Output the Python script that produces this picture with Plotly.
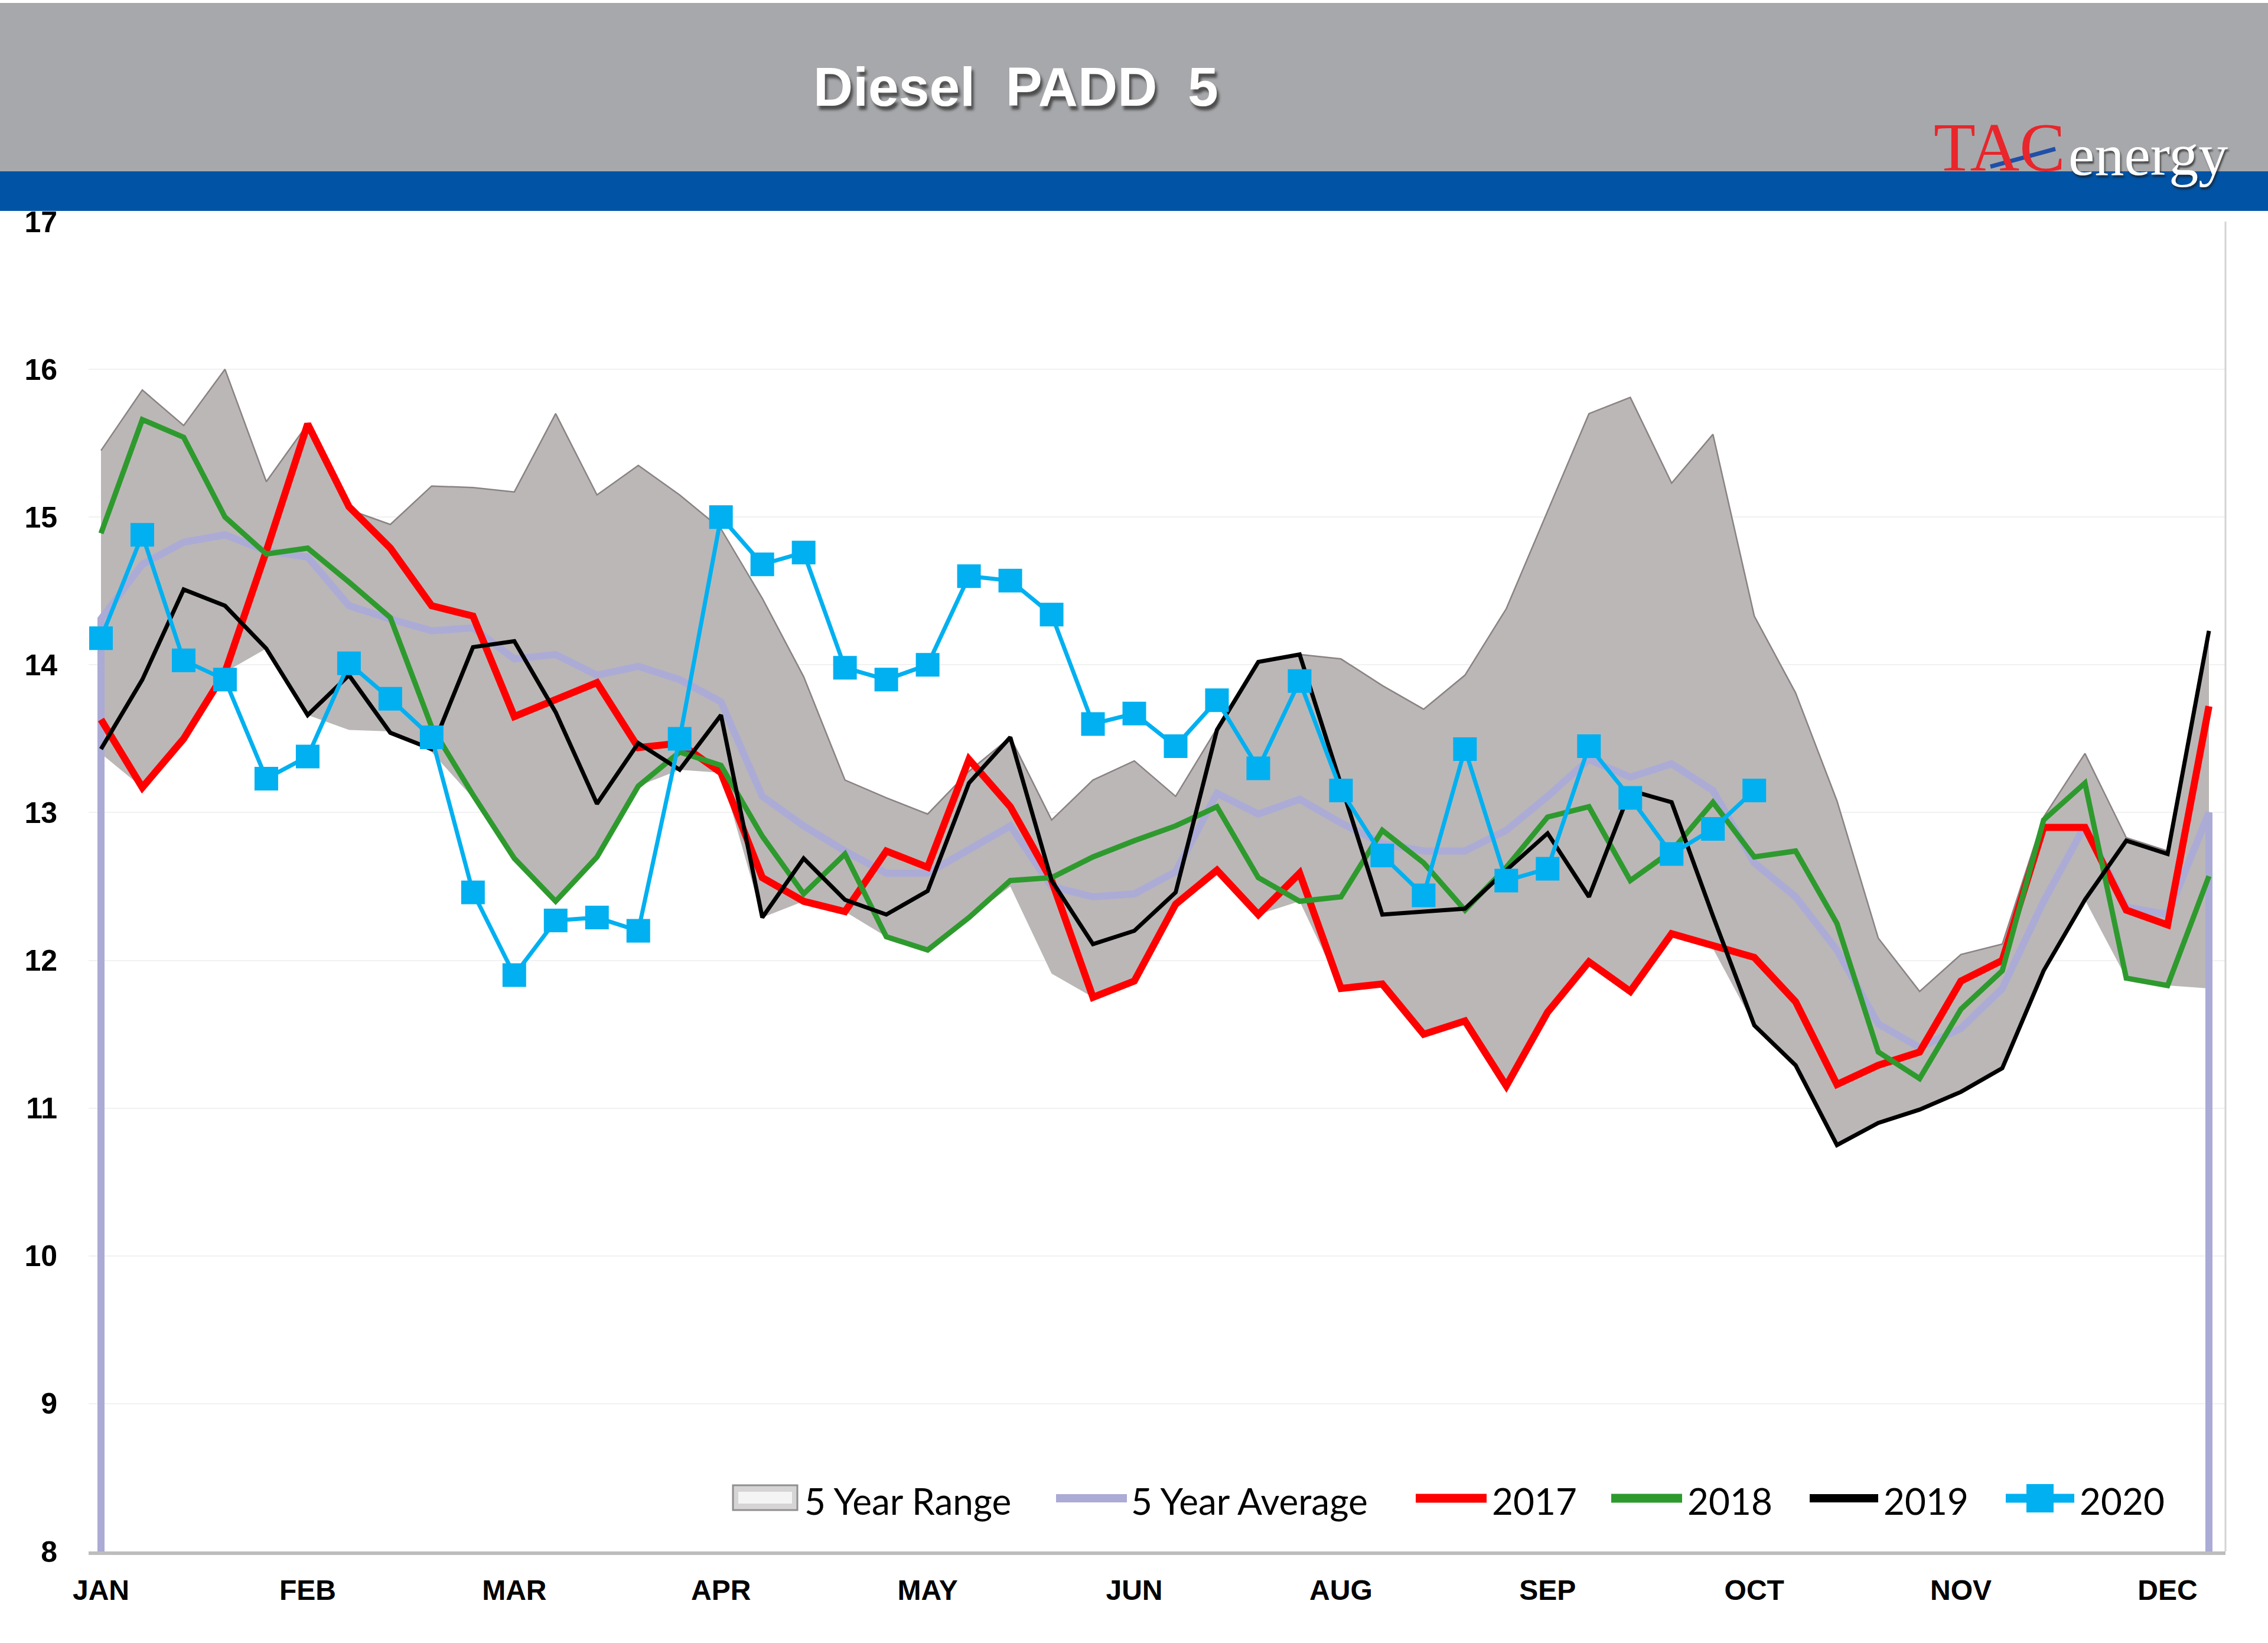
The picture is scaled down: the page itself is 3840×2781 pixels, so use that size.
import plotly.graph_objects as go

# ---------------- data ----------------
weeks = list(range(52))
month_ticks = [0, 5, 10, 15, 20, 25, 30, 35, 40, 45, 50]
month_labels = ["JAN", "FEB", "MAR", "APR", "MAY", "JUN", "AUG", "SEP", "OCT", "NOV", "DEC"]
y_ticks = [8, 9, 10, 11, 12, 13, 14, 15, 16, 17]
series_names = ["5 Year Range", "5 Year Average", "2017", "2018", "2019", "2020"]

range_low = [13.40, 13.17, 13.50, 13.95, 14.11, 13.66, 13.56, 13.55, 13.41, 13.10,
             12.68, 12.40, 12.70, 13.18, 13.29, 13.27, 12.29, 12.40, 12.33, 12.16,
             12.07, 12.29, 12.50, 11.91, 11.75, 11.86, 12.35, 12.61, 12.31, 12.40,
             11.81, 11.84, 11.50, 11.59, 11.15, 11.65, 11.99, 11.79, 12.18, 12.08,
             11.56, 11.29, 10.75, 10.90, 10.99, 11.11, 11.27, 11.93, 12.41, 11.88,
             11.83, 11.81]
range_high = [15.45, 15.86, 15.62, 16.00, 15.24, 15.63, 15.05, 14.95, 15.21, 15.20,
              15.17, 15.70, 15.15, 15.35, 15.15, 14.92, 14.45, 13.92, 13.22, 13.10,
              12.99, 13.28, 13.51, 12.95, 13.22, 13.35, 13.11, 13.57, 14.02, 14.07,
              14.04, 13.86, 13.70, 13.93, 14.38, 15.04, 15.70, 15.81, 15.23, 15.56,
              14.33, 13.81, 13.08, 12.15, 11.79, 12.04, 12.11, 12.97, 13.40, 12.83,
              12.74, 14.23]
avg5 = [14.31, 14.68, 14.83, 14.88, 14.77, 14.73, 14.40, 14.31, 14.23, 14.25,
        14.04, 14.07, 13.93, 13.99, 13.90, 13.75, 13.11, 12.91, 12.74, 12.59,
        12.59, 12.75, 12.91, 12.50, 12.43, 12.45, 12.60, 13.13, 12.99, 13.09,
        12.93, 12.79, 12.74, 12.74, 12.88, 13.11, 13.36, 13.24, 13.33, 13.15,
        12.66, 12.43, 12.07, 11.57, 11.41, 11.54, 11.81, 12.40, 12.91, 12.36,
        12.31, 13.00]
y2017 = [13.63, 13.17, 13.50, 13.95, 14.77, 15.63, 15.07, 14.79, 14.40, 14.33,
         13.65, 13.77, 13.88, 13.44, 13.47, 13.27, 12.56, 12.40, 12.33, 12.74,
         12.63, 13.36, 13.04, 12.54, 11.75, 11.86, 12.38, 12.61, 12.31, 12.59,
         11.81, 11.84, 11.50, 11.59, 11.15, 11.65, 11.99, 11.79, 12.18, 12.10,
         12.02, 11.72, 11.16, 11.29, 11.38, 11.86, 12.00, 12.90, 12.90, 12.34,
         12.24, 13.72]
y2018 = [14.89, 15.66, 15.54, 15.00, 14.75, 14.79, 14.56, 14.32, 13.58, 13.12,
         12.69, 12.40, 12.70, 13.18, 13.41, 13.32, 12.84, 12.45, 12.72, 12.16,
         12.07, 12.29, 12.54, 12.56, 12.70, 12.81, 12.91, 13.04, 12.56, 12.40,
         12.43, 12.88, 12.66, 12.34, 12.63, 12.97, 13.04, 12.54, 12.74, 13.07,
         12.70, 12.74, 12.25, 11.38, 11.20, 11.67, 11.93, 12.95, 13.20, 11.88,
         11.83, 12.57]
y2019 = [13.43, 13.90, 14.51, 14.40, 14.11, 13.66, 13.93, 13.54, 13.43, 14.12,
         14.16, 13.68, 13.06, 13.47, 13.29, 13.66, 12.29, 12.69, 12.41, 12.31,
         12.47, 13.20, 13.51, 12.54, 12.11, 12.20, 12.46, 13.56, 14.02, 14.07,
         13.19, 12.31, 12.33, 12.35, 12.61, 12.86, 12.43, 13.15, 13.07, 12.30,
         11.56, 11.29, 10.75, 10.90, 10.99, 11.11, 11.27, 11.93, 12.41, 12.81,
         12.72, 14.23]
y2020 = [14.18, 14.88, 14.03, 13.90, 13.23, 13.38, 14.01, 13.77, 13.51, 12.46,
         11.90, 12.27, 12.29, 12.20, 13.50, 15.00, 14.68, 14.76, 13.98, 13.90,
         14.00, 14.60, 14.57, 14.34, 13.60, 13.67, 13.45, 13.76, 13.30, 13.89,
         13.15, 12.71, 12.44, 13.43, 12.54, 12.62, 13.45, 13.10, 12.72, 12.89,
         13.15]

# ---------------- styling ----------------
C_RANGE, C_RANGE_EDGE = "#bbb7b7", "#8a8283"
C_AVG, C_2017, C_2018, C_2019, C_2020 = "#ababd6", "#ff0000", "#2e9a2e", "#000000", "#00b0f0"

W, H = 3840, 2781
ML, MR, MT, MB = 150, 72, 375, 155
PW, PH = W - ML - MR, H - MT - MB


def px(x):
    return (x - ML) / PW


def py(y):
    return (H - MB - y) / PH


fig = go.Figure()

# 5 year range (area between low and high)
fig.add_trace(go.Scatter(x=weeks, y=range_low, mode="lines",
                         line=dict(width=0, color="rgba(0,0,0,0)"),
                         showlegend=False, hoverinfo="skip"))
fig.add_trace(go.Scatter(x=weeks, y=range_high, mode="lines", name=series_names[0],
                         fill="tonexty", fillcolor=C_RANGE,
                         line=dict(width=2.5, color=C_RANGE_EDGE), showlegend=False))

# 5 year average (area-outline style: drops to the axis at both ends)
avg_x = [weeks[0]] + weeks + [weeks[-1]]
avg_y = [y_ticks[0]] + avg5 + [y_ticks[0]]
fig.add_trace(go.Scatter(x=avg_x, y=avg_y, mode="lines", name=series_names[1],
                         line=dict(width=12, color=C_AVG), showlegend=False))

fig.add_trace(go.Scatter(x=weeks, y=y2017, mode="lines", name=series_names[2],
                         line=dict(width=12, color=C_2017), showlegend=False))
fig.add_trace(go.Scatter(x=weeks, y=y2018, mode="lines", name=series_names[3],
                         line=dict(width=9, color=C_2018), showlegend=False))
fig.add_trace(go.Scatter(x=weeks, y=y2019, mode="lines", name=series_names[4],
                         line=dict(width=7, color=C_2019), showlegend=False))
fig.add_trace(go.Scatter(x=weeks[:len(y2020)], y=y2020, mode="lines+markers", name=series_names[5],
                         line=dict(width=7, color=C_2020),
                         marker=dict(symbol="square", size=40, color=C_2020), showlegend=False))

tickfont = dict(family="Liberation Sans", size=50, color="#000000", weight="bold")

fig.update_layout(
    width=W, height=H,
    margin=dict(l=ML, r=MR, t=MT, b=MB, pad=0),
    paper_bgcolor="white", plot_bgcolor="white",
    showlegend=False,
    xaxis=dict(range=[-0.3, 51.4], tickmode="array", tickvals=month_ticks, ticktext=month_labels,
               showgrid=False, zeroline=False, showline=True, linecolor="#bdbdbd", linewidth=6,
               ticks="", tickfont=dict(family="Liberation Sans", size=48, color="#000000", weight="bold"),
               ticklabelstandoff=18),
    yaxis=dict(range=[8, 17], tickmode="array", tickvals=y_ticks,
               showgrid=True, gridcolor="#f1f1f1", gridwidth=2, zeroline=False, showline=False,
               ticks="", tickfont=tickfont, ticklabelstandoff=52),
)

# header bands
fig.add_shape(type="rect", xref="paper", yref="paper", x0=px(0), x1=px(W), y0=py(290), y1=py(5),
              fillcolor="#a7a8ab", line=dict(width=0), layer="above")
fig.add_shape(type="rect", xref="paper", yref="paper", x0=px(0), x1=px(W), y0=py(357), y1=py(290),
              fillcolor="#0153a5", line=dict(width=0), layer="above")
# right border of plot area
fig.add_shape(type="line", xref="paper", yref="paper", x0=1, x1=1, y0=0, y1=1,
              line=dict(color="#d4d4d4", width=3))

# title
fig.add_annotation(xref="paper", yref="paper", x=px(1720), y=py(147), xanchor="center", yanchor="middle",
                   text="Diesel\u00a0 PADD\u00a0 5", showarrow=False,
                   font=dict(family="Liberation Sans", size=93, color="white", weight="bold",
                             shadow="4px 7px 4px rgba(40,40,40,0.7)"))
# logo
fig.add_annotation(xref="paper", yref="paper", x=px(3272), y=py(250), xanchor="left", yanchor="middle",
                   text="TAC", showarrow=False,
                   font=dict(family="Liberation Serif", size=116, color="#e8262b"))
fig.add_annotation(xref="paper", yref="paper", x=px(3500), y=py(262), xanchor="left", yanchor="middle",
                   text="energy", showarrow=False,
                   font=dict(family="Liberation Serif", size=100, color="white",
                             shadow="2px 4px 3px rgba(30,30,30,0.7)"))
fig.add_shape(type="line", xref="paper", yref="paper", x0=px(3370), y0=py(282), x1=px(3480), y1=py(252),
              line=dict(color="#1f4fa8", width=7), layer="above")

# ---------------- legend (drawn manually for Excel-like wide keys) ----------------
LEG_Y = 2536
leg_font = dict(family="Lato", size=62, color="#000000")
# range key: box
fig.add_shape(type="rect", xref="paper", yref="paper", x0=px(1241), x1=px(1350), y0=py(2556), y1=py(2514),
              fillcolor="#d6d4d4", line=dict(color="#8f8f8f", width=3))
fig.add_shape(type="rect", xref="paper", yref="paper", x0=px(1250), x1=px(1341), y0=py(2545), y1=py(2525),
              fillcolor="#f4f4f4", line=dict(width=0))
line_keys = [(1788, 1908, C_AVG, 14), (2397, 2517, C_2017, 15), (2728, 2848, C_2018, 15),
             (3064, 3180, C_2019, 14), (3396, 3512, C_2020, 15)]
for x0, x1, col, wdt in line_keys:
    fig.add_shape(type="line", xref="paper", yref="paper", x0=px(x0), x1=px(x1), y0=py(LEG_Y), y1=py(LEG_Y),
                  line=dict(color=col, width=wdt))
fig.add_shape(type="rect", xref="paper", yref="paper", x0=px(3431), x1=px(3477), y0=py(2560), y1=py(2512),
              fillcolor=C_2020, line=dict(width=0))
text_x = [1360, 1913, 2524, 2855, 3187, 3519]
for name, tx in zip(series_names, text_x):
    fig.add_annotation(xref="paper", yref="paper", x=px(tx), y=py(LEG_Y + 4), xanchor="left", yanchor="middle",
                       text=name, showarrow=False, font=leg_font)

fig.write_html("out.html", config={"displayModeBar": False},
               post_script="document.body.style.margin='0px';")
